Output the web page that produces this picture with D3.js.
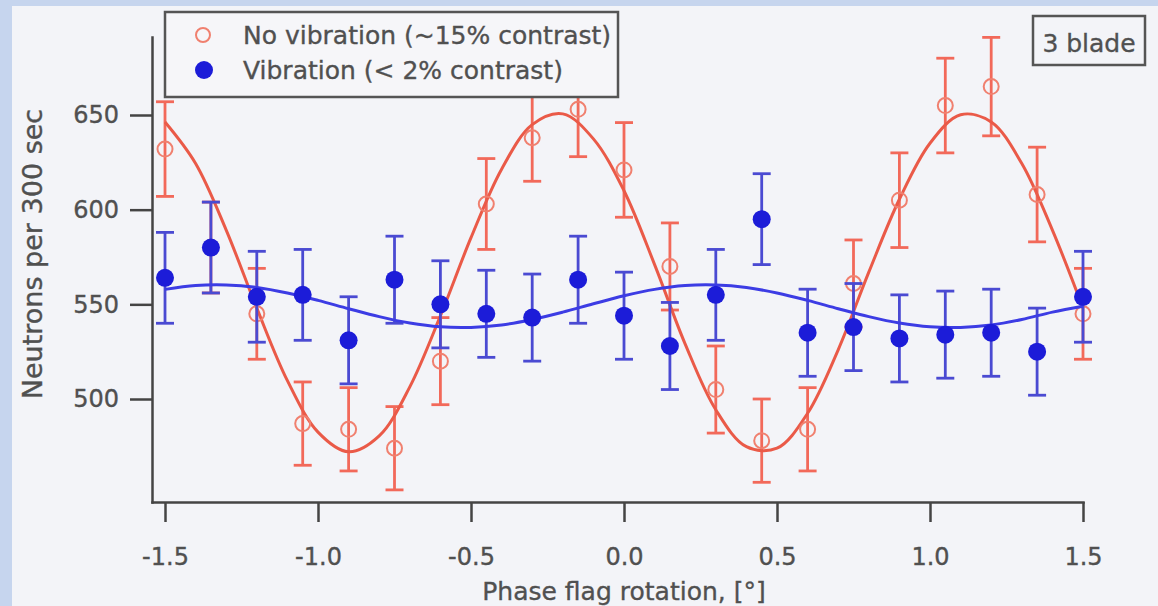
<!doctype html>
<html lang="en">

<head>
    <meta charset="utf-8">
    <title>3 blade phase flag scan</title>
    <style type="text/css">
        body {
            margin: 0px;
            background: #c6d5ee;
        }

        text {
            font-family: "DejaVu Sans", Verdana, sans-serif;
            fill: #505050;
            stroke: #505050;
            stroke-width: 0.35px;
        }

        .axis path,
        .axis line {
            stroke: #444444;
            stroke-width: 2.5px;
        }

        .axis text {
            font-size: 24px;
            fill: #505050;
        }
    </style>
</head>

<body>
    <script src="https://cdnjs.cloudflare.com/ajax/libs/d3/7.8.5/d3.min.js"></script>

    <div id="container"></div>

    <script>
        // phase flag rotation, one point every 0.15 deg
        var phase = [-1.5, -1.35, -1.2, -1.05, -0.9, -0.75, -0.6, -0.45, -0.3, -0.15, 0,
            0.15, 0.3, 0.45, 0.6, 0.75, 0.9, 1.05, 1.2, 1.35, 1.5]

        // no vibration (~15% contrast), counts per 300 sec and error
        var noVib = [632, 580, 545, 487, 484, 474, 520, 603, 638, 653, 621,
            570, 505, 478, 484, 561, 605, 655, 665, 608, 545]
        var noVibErr = [25, 24, 24, 22, 22, 22, 23, 24, 23, 25, 25,
            23, 23, 22, 22, 23, 25, 25, 26, 25, 24]

        // vibration (< 2% contrast)
        var vib = [564, 580, 554, 555, 531, 563, 550, 545, 543, 563, 544,
            528, 555, 595, 535, 538, 532, 534, 535, 525, 554]
        var vibErr = [24, 24, 24, 24, 23, 23, 23, 23, 23, 23, 23,
            23, 24, 24, 23, 23, 23, 23, 23, 23, 24]

        // fitted curves, every 0.1 deg
        var fitPhase = [-1.5, -1.4, -1.3, -1.2, -1.1, -1.0, -0.9, -0.8, -0.7, -0.6, -0.5,
            -0.4, -0.3, -0.2, -0.1, 0.0, 0.1, 0.2, 0.3, 0.4, 0.5,
            0.6, 0.7, 0.8, 0.9, 1.0, 1.1, 1.2, 1.3, 1.4, 1.5]
        var noVibFit = [646.3, 624.4, 589.2, 548.0, 509.7, 482.5, 472.1, 480.5, 506.4, 543.9, 585.2,
            621.4, 644.9, 650.6, 637.4, 610.0, 571.0, 529.0, 494.3, 474.8, 474.0,
            492.5, 526.0, 567.0, 605.5, 635.1, 650.1, 646.3, 624.4, 589.2, 548.0]
        var vibFit = [557.9, 559.9, 560.2, 558.9, 556.0, 552.1, 547.7, 543.5, 540.1, 538.1, 537.8,
            539.1, 542.0, 545.9, 550.3, 554.5, 557.9, 559.9, 560.2, 558.9, 556.0,
            552.1, 547.7, 543.5, 540.1, 538.1, 537.8, 539.1, 542.0, 545.9, 549.0]

        var xTicks = [-1.5, -1.0, -0.5, 0.0, 0.5, 1.0, 1.5]
        var xTickLabels = ["-1.5", "-1.0", "-0.5", "0.0", "0.5", "1.0", "1.5"]
        var yTicks = [500, 550, 600, 650]

        var width = 1158
        var height = 606

        var svg = d3.select("#container")
            .append("svg")
            .attr("width", width)
            .attr("height", height)
            .style("display", "block");

        // light panel over the blue page
        svg.append("rect")
            .attr("x", 12).attr("y", 6)
            .attr("width", width - 12).attr("height", height - 6)
            .attr("fill", "#f3f4f8");

        var x = d3.scaleLinear()
            .domain([-1.5425, 1.5])
            .range([152, 1083]);

        var y = d3.scaleLinear()
            .domain([445.6, 691.2])
            .range([502, 37]);

        // axes
        svg.append("g")
            .attr("class", "axis")
            .attr("transform", "translate(0,502)")
            .call(d3.axisBottom(x)
                .tickValues(xTicks)
                .tickFormat(function (d, i) { return xTickLabels[i] })
                .tickSize(20)
                .tickSizeOuter(0)
                .tickPadding(26));

        svg.append("g")
            .attr("class", "axis")
            .attr("transform", "translate(152,0)")
            .call(d3.axisLeft(y)
                .tickValues(yTicks)
                .tickSize(22)
                .tickSizeOuter(0)
                .tickPadding(11));

        svg.selectAll(".axis .domain").attr("stroke-linecap", "square");

        svg.append("text")
            .attr("x", 624)
            .attr("y", 600)
            .attr("text-anchor", "middle")
            .style("font-size", "25px")
            .text("Phase flag rotation, [°]");

        svg.append("text")
            .attr("transform", "translate(42,254) rotate(-90)")
            .attr("text-anchor", "middle")
            .style("font-size", "27px")
            .text("Neutrons per 300 sec");

        var line = d3.line()
            .x(function (d) { return x(d[0]) })
            .y(function (d) { return y(d[1]) })
            .curve(d3.curveCatmullRom);

        function drawErrors(vals, errs, color) {
            var g = svg.append("g")
                .attr("stroke", color)
                .attr("stroke-width", 2.8);
            vals.forEach(function (v, i) {
                var cx = x(phase[i]);
                g.append("line")
                    .attr("x1", cx).attr("x2", cx)
                    .attr("y1", y(v - errs[i])).attr("y2", y(v + errs[i]));
                g.append("line")
                    .attr("x1", cx - 9).attr("x2", cx + 9)
                    .attr("y1", y(v - errs[i])).attr("y2", y(v - errs[i]));
                g.append("line")
                    .attr("x1", cx - 9).attr("x2", cx + 9)
                    .attr("y1", y(v + errs[i])).attr("y2", y(v + errs[i]));
            });
        }

        // no vibration series
        drawErrors(noVib, noVibErr, "#f2695a");

        svg.append("path")
            .datum(fitPhase.map(function (p, i) { return [p, noVibFit[i]] }))
            .attr("d", line)
            .attr("fill", "none")
            .attr("stroke", "#ea5a48")
            .attr("stroke-width", 3);

        svg.append("g")
            .selectAll("circle")
            .data(noVib)
            .enter()
            .append("circle")
            .attr("cx", function (d, i) { return x(phase[i]) })
            .attr("cy", function (d) { return y(d) })
            .attr("r", 7.5)
            .attr("fill", "none")
            .attr("stroke", "#f0806f")
            .attr("stroke-width", 2);

        // vibration series
        drawErrors(vib, vibErr, "#4a4ad2");

        svg.append("path")
            .datum(fitPhase.map(function (p, i) { return [p, vibFit[i]] }))
            .attr("d", line)
            .attr("fill", "none")
            .attr("stroke", "#3c3ce4")
            .attr("stroke-width", 3);

        svg.append("g")
            .selectAll("circle")
            .data(vib)
            .enter()
            .append("circle")
            .attr("cx", function (d, i) { return x(phase[i]) })
            .attr("cy", function (d) { return y(d) })
            .attr("r", 9)
            .attr("fill", "#1c1cd8");

        // legend, drawn on top of the marks
        var legend = svg.append("g");
        legend.append("rect")
            .attr("x", 165).attr("y", 12)
            .attr("width", 453).attr("height", 85)
            .attr("fill", "#f6f6f9")
            .attr("stroke", "#555555")
            .attr("stroke-width", 2.5);
        legend.append("circle")
            .attr("cx", 203).attr("cy", 35).attr("r", 7)
            .attr("fill", "none")
            .attr("stroke", "#f0806f")
            .attr("stroke-width", 2);
        legend.append("circle")
            .attr("cx", 204).attr("cy", 70).attr("r", 9)
            .attr("fill", "#1c1cd8");
        legend.append("text")
            .attr("x", 243).attr("y", 44)
            .style("font-size", "25px")
            .text("No vibration (~15% contrast)");
        legend.append("text")
            .attr("x", 243).attr("y", 79)
            .style("font-size", "25px")
            .text("Vibration (< 2% contrast)");

        // blade tag
        svg.append("rect")
            .attr("x", 1033).attr("y", 16)
            .attr("width", 112).attr("height", 49)
            .attr("fill", "none")
            .attr("stroke", "#555555")
            .attr("stroke-width", 2.5);
        svg.append("text")
            .attr("x", 1089).attr("y", 52)
            .attr("text-anchor", "middle")
            .style("font-size", "25px")
            .text("3 blade");
    </script>
</body>

</html>
